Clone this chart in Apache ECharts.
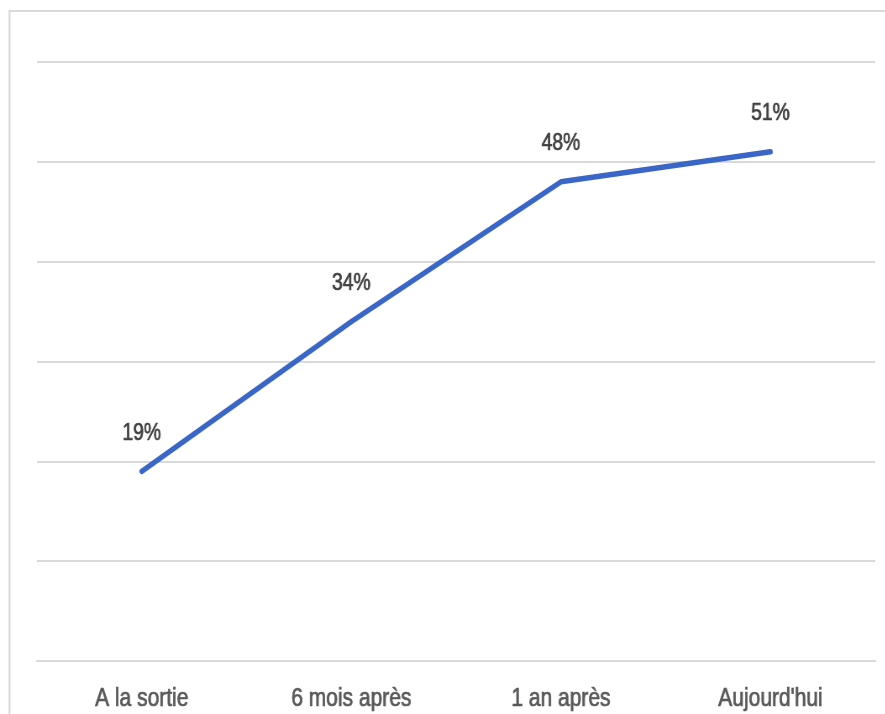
<!DOCTYPE html>
<html>
<head>
<meta charset="utf-8">
<script src="https://cdn.jsdelivr.net/npm/echarts@6/dist/echarts.min.js"></script>
<style>
html,body{margin:0;padding:0;background:#fff;overflow:hidden;width:885px;height:714px;}
#c{width:1054px;height:714px;transform:scaleX(0.84);transform-origin:0 0;}
</style>
</head>
<body>
<div id="c"></div>
<script>
const categories = ["A la sortie", "6 mois après", "1 an après", "Aujourd'hui"];
const values = [19, 34, 48, 51];
const yTicks = [0, 10, 20, 30, 40, 50, 60];

const chart = echarts.init(document.getElementById('c'), null, {renderer: 'canvas'});
const font = "'Liberation Sans', Arial, sans-serif";
chart.setOption({
  animation: false,
  backgroundColor: '#ffffff',
  graphic: [{
    type: 'rect',
    shape: {x: 11.3, y: 11, width: 2000, height: 1000},
    style: {fill: 'none', stroke: '#d9d9d9', lineWidth: 2.2},
    silent: true, z: -1
  }],
  grid: {left: 44, right: 12, top: 62, bottom: 53, containLabel: false},
  xAxis: {
    type: 'category',
    data: categories,
    boundaryGap: true,
    axisLine: {show: true, lineStyle: {color: '#d9d9d9', width: 2}},
    axisTick: {show: false},
    axisLabel: {
      color: '#595959', fontSize: 25, fontFamily: font, margin: 26,
      textBorderColor: '#595959', textBorderWidth: 0.7
    }
  },
  yAxis: {
    type: 'value',
    min: yTicks[0], max: yTicks[yTicks.length - 1], interval: 10,
    axisLabel: {show: false},
    axisLine: {show: false},
    axisTick: {show: false},
    splitLine: {show: true, lineStyle: {color: '#d9d9d9', width: 2}}
  },
  series: [{
    type: 'line',
    data: values,
    symbol: 'circle',
    symbolSize: 1,
    showSymbol: true,
    itemStyle: {color: '#3a66c8'},
    lineStyle: {color: '#3a66c8', width: 5.5, cap: 'round', join: 'round'},
    label: {
      show: true, position: 'top', distance: 26,
      formatter: p => p.value + '%',
      color: '#404040', fontSize: 23, fontFamily: font,
      textBorderColor: '#404040', textBorderWidth: 0.7
    }
  }]
});
</script>
</body>
</html>
